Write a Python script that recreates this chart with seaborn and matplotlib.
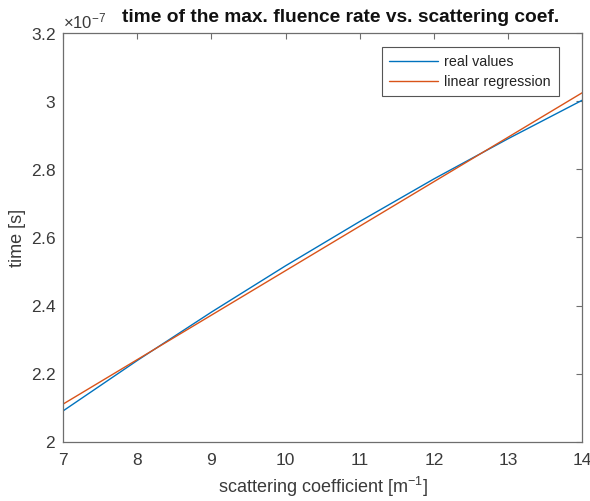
import re
import numpy as np
import pandas as pd
import matplotlib
matplotlib.use("Agg")
import matplotlib.pyplot as plt
import seaborn as sns
from matplotlib.ticker import ScalarFormatter

# scattering coefficient [1/m] and time of the maximum fluence rate [s]
scattering = [7, 8, 9, 10, 11, 12, 13, 14]
time_real = [2.091e-7, 2.239e-7, 2.381e-7, 2.517e-7, 2.647e-7, 2.772e-7, 2.890e-7, 3.003e-7]

# straight-line fit evaluated at the ends of the range
fit_x = [7, 14]
fit_time = [2.111e-7, 3.025e-7]

x_ticks = [7, 8, 9, 10, 11, 12, 13, 14]
y_ticks = [2.0e-7, 2.2e-7, 2.4e-7, 2.6e-7, 2.8e-7, 3.0e-7, 3.2e-7]

df = pd.concat([
    pd.DataFrame({"x": scattering, "t": time_real, "series": "real values"}),
    pd.DataFrame({"x": fit_x, "t": fit_time, "series": "linear regression"}),
])


class TrimmedFormatter(ScalarFormatter):
    """Scientific offset formatter that drops trailing '.0' from tick labels."""
    def __call__(self, x, pos=None):
        s = super().__call__(x, pos)
        return re.sub(r"\.0+(?=\D|$)", "", s)


sns.set_style("white")
plt.rcParams["font.family"] = ["Liberation Sans", "DejaVu Sans"]
plt.rcParams["mathtext.fontset"] = "custom"
plt.rcParams["mathtext.rm"] = "Liberation Sans"
plt.rcParams["mathtext.it"] = "Liberation Sans"

fig = plt.figure(figsize=(5.9, 5.01), dpi=100)
ax = fig.add_axes([0.107, 0.118, 0.880, 0.816])

sns.lineplot(data=df, x="x", y="t", hue="series",
             palette={"real values": "#0072BD", "linear regression": "#D95319"},
             linewidth=1.0, ax=ax, legend=True)

ax.set_xlim(7, 14)
ax.set_ylim(2.0e-7, 3.2e-7)
ax.set_xticks(x_ticks)
ax.set_yticks(y_ticks)
fmt = TrimmedFormatter(useMathText=True)
fmt.set_powerlimits((0, 0))
ax.yaxis.set_major_formatter(fmt)

axis_col = "#6e6e6e"
text_col = "#3a3a3a"
for s in ax.spines.values():
    s.set_visible(True)
    s.set_color(axis_col)
    s.set_linewidth(0.9)
ax.tick_params(axis="both", which="major", direction="in", length=4, width=0.8,
               color=axis_col, labelcolor=text_col, labelsize=12.5,
               top=True, right=True)
ax.tick_params(axis="x", pad=8)
ax.tick_params(axis="y", pad=5)
ax.yaxis.get_offset_text().set_fontsize(12)
ax.yaxis.get_offset_text().set_color(text_col)

ax.set_xlabel("scattering coefficient [m$^{-1}$]", fontsize=13, color=text_col, labelpad=5)
ax.set_ylabel("time [s]", fontsize=13, color=text_col, labelpad=3)

# title sits to the right of the exponent label
fig.text(341 / 590, 1 - 17 / 501, "time of the max. fluence rate vs. scattering coef.",
         fontsize=13.8, fontweight="bold", color="#111111", ha="center", va="center")

leg = ax.legend(loc="upper right", bbox_to_anchor=(0.955, 0.966), fontsize=10.3,
                frameon=True, fancybox=False, framealpha=1, edgecolor="#555555",
                handlelength=3.4, borderpad=0.55, labelspacing=0.4, handletextpad=0.45,
                borderaxespad=0)
leg.get_frame().set_linewidth(0.8)
for t in leg.get_texts():
    t.set_color("#222222")

fig.savefig("out.png", dpi=100, facecolor="white")
